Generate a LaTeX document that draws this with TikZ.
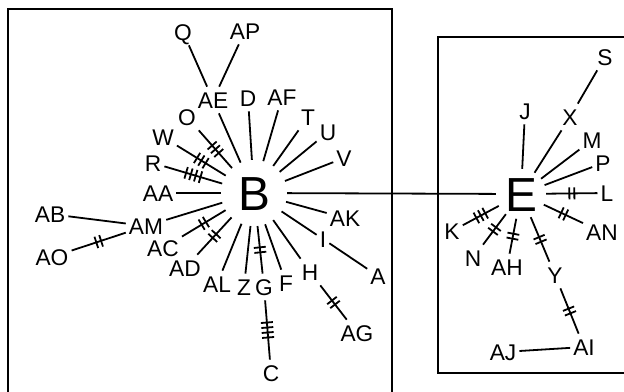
\documentclass[tikz,border=0pt]{standalone}
\usepackage{fontspec}
\setmainfont{Liberation Sans}
\usetikzlibrary{decorations.markings}
\tikzset{
  lbl/.style={inner xsep=3bp, inner ysep=5bp, font=\fontsize{22.8}{24}\selectfont,
              text height=16.3bp, text depth=0pt},
  hub/.style={circle, inner sep=0pt, font=\fontsize{48}{48}\selectfont,
              text height=34.5bp, text depth=0pt},
  link/.style={line width=1.8bp},
  frame/.style={line width=1.8bp},
  ticks/.style={postaction={decorate, decoration={markings,
      mark=at position 0.5 with {
        \foreach \k [evaluate=\k as \o using (\k-(#1+1)/2)*5] in {1,...,#1}
          {\draw[line width=1.8bp] (\o,-6) -- (\o,6);}
      }}}},
}
\begin{document}
\begin{tikzpicture}[x=1bp, y=-1bp]
  \clip (0,0) rectangle (624,391);
  % frames
  \draw[frame] (8,9) rectangle (392,400);
  \draw[frame] (438,37) rectangle (630,373);

  % left cluster
  \node[hub, minimum size=66bp] (B) at (254,193) {B};
  \node[lbl] (Q)  at (183,32)  {Q};
  \node[lbl] (AP) at (245,31)  {AP};
  \node[lbl] (AE) at (213,100) {AE};
  \node[lbl] (D)  at (248,98)  {D};
  \node[lbl] (AF) at (282,97)  {AF};
  \node[lbl] (T)  at (308,117) {T};
  \node[lbl] (U)  at (328,132) {U};
  \node[lbl] (V)  at (344,158) {V};
  \node[lbl] (O)  at (187,117) {O};
  \node[lbl] (W)  at (163,137) {W};
  \node[lbl] (R)  at (153,163) {R};
  \node[lbl] (AA) at (158,193) {AA};
  \node[lbl] (AB) at (50,214)  {AB};
  \node[lbl] (AM) at (146,226) {AM};
  \node[lbl] (AO) at (52,257)  {AO};
  \node[lbl] (AC) at (163,248) {AC};
  \node[lbl] (AD) at (185,268) {AD};
  \node[lbl] (AL) at (217,284) {AL};
  \node[lbl] (Z)  at (244,287) {Z};
  \node[lbl] (G)  at (264,287) {G};
  \node[lbl] (F)  at (286,283) {F};
  \node[lbl] (H)  at (310,272) {H};
  \node[lbl] (I)  at (323,239) {I};
  \node[lbl] (AK) at (345,218) {AK};
  \node[lbl] (A)  at (378,276) {A};
  \node[lbl] (AG) at (357,333) {AG};
  \node[lbl] (C)  at (271,373) {C};

  % right cluster
  \node[hub, minimum size=50bp] (E) at (521,194) {E};
  \node[lbl] (S)  at (605,57)  {S};
  \node[lbl] (X)  at (570,117) {X};
  \node[lbl] (J)  at (525,111) {J};
  \node[lbl] (M)  at (592,140) {M};
  \node[lbl] (P)  at (603,163) {P};
  \node[lbl] (L)  at (607,193) {L};
  \node[lbl] (AN) at (602,232) {AN};
  \node[lbl] (K)  at (452,231) {K};
  \node[lbl] (N)  at (473,258) {N};
  \node[lbl] (AH) at (507,267) {AH};
  \node[lbl] (Y)  at (555,275) {Y};
  \node[lbl] (AI) at (584,347) {AI};
  \node[lbl] (AJ) at (503,352) {AJ};

  % connectors around B
  \foreach \t in {AE,D,AF,T,U,V,AA,AM,AL,Z,F,H,I,AK}
    \draw[link] (B) -- (\t);
  \draw[link, ticks=3] (B) -- (O);
  \draw[link, ticks=3] (B) -- (W);
  \draw[link, ticks=4] (B) -- (R);
  \draw[link, ticks=2] (B) -- (AC);
  \draw[link, ticks=2] (B) -- (AD);
  \draw[link, ticks=2] (B) -- (G);
  \draw[link] (AE) -- (Q);
  \draw[link] (AE) -- (AP);
  \draw[link] (AM) -- (AB);
  \draw[link, ticks=2] (AM) -- (AO);
  \draw[link] (I) -- (A);
  \draw[link, ticks=2] (H) -- (AG);
  \draw[link, ticks=4] (G) -- (C);

  % bridge
  \draw[link] (B) -- (E);

  % connectors around E
  \foreach \t in {J,X,M,P}
    \draw[link] (E) -- (\t);
  \draw[link] (X) -- (S);
  \draw[link, ticks=2] (E) -- (L);
  \draw[link, ticks=2] (E) -- (AN);
  \draw[link, ticks=3] (E) -- (K);
  \draw[link, ticks=2] (E) -- (N);
  \draw[link, ticks=2] (E) -- (AH);
  \draw[link, ticks=2] (E) -- (Y);
  \draw[link, ticks=2] (Y) -- (AI);
  \draw[link] (AI) -- (AJ);
\end{tikzpicture}
\end{document}
